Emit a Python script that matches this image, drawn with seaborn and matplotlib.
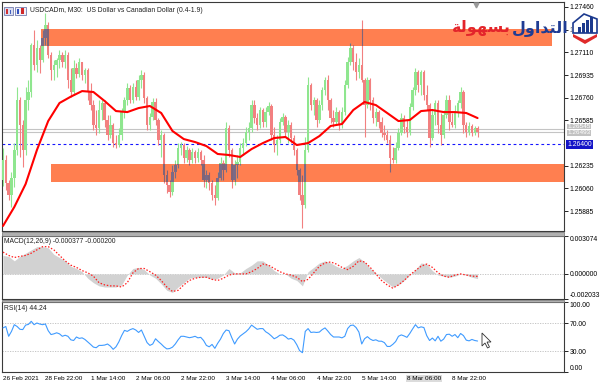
import numpy as np
import matplotlib
matplotlib.use("Agg")
import matplotlib.pyplot as plt
import matplotlib.patches as mpatches
import matplotlib.transforms as mtransforms
import seaborn as sns

sns.set_style("white")
plt.rcParams['font.family'] = ['Liberation Sans', 'DejaVu Sans']

# ---------------- data (hourly candles, USDCAD) ----------------
first_open = 1.26125
closes = [1.26279, 1.26102, 1.26010, 1.26141, 1.26356, 1.26742, 1.26549, 1.26356, 1.26742, 1.26804,
          1.27166, 1.27012, 1.27143, 1.27050, 1.27220, 1.27320, 1.27089, 1.26973, 1.27012, 1.27050,
          1.27089, 1.27035, 1.27089, 1.26896, 1.26804, 1.26989, 1.26942, 1.27035, 1.26935, 1.26973,
          1.26804, 1.26703, 1.26549, 1.26526, 1.26665, 1.26719, 1.26588, 1.26472, 1.26549, 1.26410,
          1.26395, 1.26472, 1.26649, 1.26742, 1.26835, 1.26742, 1.26842, 1.26765, 1.26896, 1.26935,
          1.26757, 1.26549, 1.26611, 1.26727, 1.26588, 1.26434, 1.26472, 1.26164, 1.26087, 1.26033,
          1.26187, 1.26241, 1.26372, 1.26395, 1.26295, 1.26356, 1.26279, 1.26341, 1.26295, 1.26341,
          1.26279, 1.26125, 1.26164, 1.26102, 1.26010, 1.25986, 1.26141, 1.26256, 1.26202, 1.26526,
          1.26356, 1.26125, 1.26241, 1.26264, 1.26372, 1.26410, 1.26495, 1.26526, 1.26703, 1.26603,
          1.26549, 1.26665, 1.26572, 1.26649, 1.26696, 1.26472, 1.26395, 1.26434, 1.26572, 1.26611,
          1.26495, 1.26549, 1.26449, 1.26356, 1.26202, 1.26010, 1.25932, 1.26356, 1.26858, 1.26703,
          1.26742, 1.26588, 1.26703, 1.26819, 1.26896, 1.26742, 1.26603, 1.26572, 1.26649, 1.26549,
          1.26649, 1.26858, 1.27035, 1.27143, 1.27035, 1.26958, 1.27012, 1.26896, 1.26703, 1.26896,
          1.26742, 1.26603, 1.26649, 1.26572, 1.26488, 1.26472, 1.26434, 1.26295, 1.26279, 1.26372,
          1.26488, 1.26603, 1.26534, 1.26495, 1.26688, 1.26819, 1.26958, 1.26858, 1.26958, 1.26781,
          1.26703, 1.26449, 1.26626, 1.26719, 1.26549, 1.26472, 1.26626, 1.26742, 1.26572, 1.26549,
          1.26649, 1.26719, 1.26804, 1.26549, 1.26495, 1.26542, 1.26488, 1.26526, 1.26493]
highs = [1.26372, 1.26318, 1.26125, 1.26187, 1.26410, 1.26842, 1.26765, 1.26588, 1.26842, 1.26896,
         1.27181, 1.27282, 1.27205, 1.27166, 1.27282, 1.27413, 1.27343, 1.27112, 1.27050, 1.27066,
         1.27127, 1.27112, 1.27127, 1.27112, 1.26989, 1.27050, 1.27027, 1.27066, 1.27035, 1.26989,
         1.26989, 1.26873, 1.26742, 1.26665, 1.26742, 1.26742, 1.26742, 1.26626, 1.26626, 1.26565,
         1.26472, 1.26526, 1.26680, 1.26765, 1.26873, 1.26858, 1.26873, 1.26896, 1.26935, 1.26973,
         1.26958, 1.26773, 1.26642, 1.26757, 1.26757, 1.26603, 1.26511, 1.26488, 1.26202, 1.26125,
         1.26241, 1.26279, 1.26410, 1.26418, 1.26410, 1.26387, 1.26372, 1.26372, 1.26356, 1.26372,
         1.26356, 1.26318, 1.26202, 1.26187, 1.26125, 1.26087, 1.26187, 1.26303, 1.26279, 1.26572,
         1.26549, 1.26372, 1.26279, 1.26318, 1.26410, 1.26449, 1.26534, 1.26572, 1.26742, 1.26742,
         1.26642, 1.26688, 1.26680, 1.26688, 1.26727, 1.26711, 1.26534, 1.26472, 1.26603, 1.26642,
         1.26626, 1.26588, 1.26572, 1.26472, 1.26372, 1.26218, 1.26164, 1.26457, 1.26919, 1.26873,
         1.26765, 1.26757, 1.26742, 1.26842, 1.26919, 1.26935, 1.26757, 1.26665, 1.26688, 1.26665,
         1.26688, 1.26896, 1.27074, 1.27181, 1.27166, 1.27104, 1.27066, 1.27359, 1.26912, 1.26919,
         1.26912, 1.26765, 1.26680, 1.26665, 1.26611, 1.26549, 1.26511, 1.26472, 1.26380, 1.26418,
         1.26526, 1.26642, 1.26626, 1.26588, 1.26719, 1.26842, 1.26989, 1.26973, 1.26973, 1.26973,
         1.26858, 1.26719, 1.26665, 1.26742, 1.26742, 1.26642, 1.26665, 1.26781, 1.26781, 1.26642,
         1.26703, 1.26742, 1.26842, 1.26819, 1.26572, 1.26572, 1.26557, 1.26542, 1.26542]
lows = [1.26079, 1.26048, 1.25971, 1.25917, 1.26071, 1.26318, 1.26303, 1.26225, 1.26318, 1.26665,
        1.26765, 1.26973, 1.26958, 1.26950, 1.27035, 1.27166, 1.27066, 1.26896, 1.26896, 1.26919,
        1.26989, 1.26996, 1.26989, 1.26835, 1.26765, 1.26781, 1.26912, 1.26919, 1.26896, 1.26873,
        1.26742, 1.26665, 1.26511, 1.26472, 1.26488, 1.26588, 1.26534, 1.26434, 1.26449, 1.26380,
        1.26372, 1.26380, 1.26434, 1.26603, 1.26703, 1.26719, 1.26719, 1.26742, 1.26742, 1.26835,
        1.26719, 1.26511, 1.26511, 1.26588, 1.26549, 1.26395, 1.26303, 1.26102, 1.26025, 1.25994,
        1.26010, 1.26141, 1.26218, 1.26318, 1.26256, 1.26264, 1.26241, 1.26256, 1.26256, 1.26264,
        1.26241, 1.26071, 1.26064, 1.26048, 1.25971, 1.25932, 1.25971, 1.26125, 1.26125, 1.26187,
        1.26303, 1.26064, 1.26087, 1.26141, 1.26241, 1.26318, 1.26387, 1.26434, 1.26495, 1.26565,
        1.26511, 1.26526, 1.26534, 1.26534, 1.26626, 1.26434, 1.26341, 1.26318, 1.26410, 1.26549,
        1.26457, 1.26410, 1.26410, 1.26318, 1.26164, 1.25971, 1.25755, 1.25909, 1.26341, 1.26665,
        1.26626, 1.26534, 1.26565, 1.26665, 1.26781, 1.26665, 1.26565, 1.26534, 1.26549, 1.26511,
        1.26526, 1.26626, 1.26835, 1.27012, 1.26973, 1.26896, 1.26912, 1.26881, 1.26457, 1.26680,
        1.26665, 1.26565, 1.26542, 1.26526, 1.26457, 1.26434, 1.26410, 1.26187, 1.26256, 1.26256,
        1.26356, 1.26472, 1.26488, 1.26457, 1.26472, 1.26665, 1.26781, 1.26804, 1.26781, 1.26742,
        1.26665, 1.26380, 1.26434, 1.26549, 1.26488, 1.26395, 1.26449, 1.26603, 1.26511, 1.26534,
        1.26526, 1.26611, 1.26680, 1.26488, 1.26457, 1.26472, 1.26464, 1.26472, 1.26457]

# moving average, one value every 4 candles
ma_step = 4
ma_values = [1.25771, 1.25917, 1.26094, 1.26356, 1.26580, 1.26719, 1.26768, 1.26811, 1.26804, 1.26734,
             1.26657, 1.26649, 1.26680, 1.26696, 1.26642, 1.26503, 1.26441, 1.26418, 1.26387, 1.26326,
             1.26318, 1.26303, 1.26364, 1.26410, 1.26449, 1.26457, 1.26395, 1.26410, 1.26464, 1.26542,
             1.26557, 1.26665, 1.26727, 1.26703, 1.26642, 1.26580, 1.26588, 1.26657, 1.26665, 1.26649,
             1.26649, 1.26642, 1.26603]

# MACD (values in units of 1e-4), one value every 2 candles
macd_step = 2
macd_main_e4 = [15.0, 14.2, 10.6, 14.2, 16.8, 19.5, 22.1, 22.1, 21.2, 15.9,
                13.3, 10.6, 6.2, 4.4, 1.8, -3.5, -7.1, -9.7, -10.6, -10.6,
                -10.6, -8.9, -0.9, 4.4, 5.3, 3.5, -0.9, -3.5, -8.0, -13.3,
                -15.0, -10.6, -7.1, -3.5, -2.7, -2.7, -2.7, -4.4, -3.5, -0.9,
                4.4, 0.9, 0.9, 4.4, 7.1, 10.6, 10.6, 7.1, 2.7, 0.0,
                0.0, -3.5, -5.3, -9.7, 1.8, 5.3, 8.9, 10.6, 8.9, 6.2,
                4.4, 7.1, 10.6, 13.3, 9.7, 4.4, 0.9, -3.5, -7.1, -10.6,
                -8.9, -5.3, -0.9, 3.5, 8.9, 8.0, 2.7, -0.9, -1.8, -2.7,
                -1.8, 0.0, -0.9, -2.7, -3.77]
macd_signal_e4 = [17.7, 15.0, 13.3, 14.2, 15.0, 16.8, 19.5, 22.1, 22.1, 19.5,
                  15.0, 10.6, 7.1, 5.3, 2.7, 0.9, -1.8, -7.1, -8.9, -9.7,
                  -9.7, -10.6, -7.1, 0.9, 4.4, 4.4, 1.8, -0.9, -5.3, -10.6,
                  -14.2, -13.3, -8.9, -5.3, -3.5, -2.7, -2.7, -4.4, -5.3, -3.5,
                  -0.9, 0.0, 0.0, 0.0, 1.8, 4.4, 8.0, 7.1, 4.4, 1.8,
                  0.0, -0.9, -2.7, -6.2, -4.4, 0.9, 6.2, 8.9, 9.7, 8.0,
                  5.3, 3.5, 6.2, 10.6, 9.7, 5.3, 0.0, -5.3, -8.9, -11.5,
                  -8.9, -5.3, -0.9, 2.7, 6.2, 8.0, 5.3, 0.9, -1.8, -2.7,
                  -0.9, 0.0, -0.9, -1.8, -2.0]

rsi_values = [63, 65, 51, 58, 67.6, 65, 61, 60.6, 67, 68,
              72.4, 67.6, 70, 68.5, 67.6, 68.6, 59, 53.5, 54.5, 56,
              54.5, 51, 52.5, 51, 46, 45, 50, 48, 48.8, 46.5,
              43, 39.4, 35.6, 34.7, 38, 38, 38.5, 40, 37, 32.4,
              36, 43, 52, 59.5, 58, 60.5, 62, 60, 56.5, 60,
              51, 42, 38, 40, 47.5, 43.5, 40, 36, 33, 33.5,
              35.5, 40, 46, 51, 51, 50, 49, 49.8, 51, 48.8,
              49.5, 45, 38, 36, 39.4, 33.8, 41, 47, 55, 60,
              59, 49, 40, 47, 51.5, 54.5, 57.5, 61.5, 67, 64,
              61, 62, 62, 57.5, 55, 51.5, 47.5, 49.5, 52.5, 53,
              50.5, 47, 48, 45.5, 39, 30.5, 27.6, 58, 62, 56.5,
              57, 56.5, 57, 60.6, 63, 58.5, 53.5, 50, 50, 50,
              48.8, 51, 62, 66.5, 67, 63.5, 57, 40, 47.5, 50.5,
              47, 45, 46, 44, 44, 42, 36.5, 36.5, 39.5, 43.5,
              51, 53, 51.5, 49.5, 55, 61.5, 67.6, 63, 64.5, 63.5,
              52, 45, 48.5, 44.5, 51, 44, 47, 53.5, 54, 51,
              53.5, 49, 55, 52, 45.5, 44.5, 46.5, 45, 44.24]

# chart objects (time in candle index, price)
zone_start = [13.5, 17.0]
zone_end = [194.3, 198.6]
zone_low = [1.27161, 1.26112]
zone_high = [1.27290, 1.26249]
hline_level = 1.26400
price_lines = [1.26516, 1.26493]
price_labels = ["1.26545", "1.26493"]

price_ticks = [1.27460, 1.27285, 1.27110, 1.26935, 1.26760, 1.26585, 1.26235, 1.26060, 1.25885]
macd_ticks = [0.003074, 0.0, -0.002033]
rsi_ticks = [100, 70, 30, 0]
time_tick_idx = [0, 15, 31, 47, 63, 79, 95, 111, 127, 143, 159]
time_tick_labels = ["26 Feb 2021", "28 Feb 22:00", "1 Mar 14:00", "2 Mar 06:00", "2 Mar 22:00",
                    "3 Mar 14:00", "4 Mar 06:00", "4 Mar 22:00", "5 Mar 14:00", "8 Mar 06:00",
                    "8 Mar 22:00"]

# ---------------- figure ----------------
W, H = 600, 383
fig = plt.figure(figsize=(W / 100, H / 100), dpi=100)
fig.patch.set_facecolor("white")


def rect(x0, y0, x1, y1):
    return [x0 / W, 1 - y1 / H, (x1 - x0) / W, (y1 - y0) / H]


ax = fig.add_axes(rect(2, 2, 564, 231))
axm = fig.add_axes(rect(2, 236, 564, 299), sharex=ax)
axr = fig.add_axes(rect(2, 302, 564, 372), sharex=ax)

FS = 4.9
for a in (ax, axm, axr):
    a.set_facecolor("white")
    for s in a.spines.values():
        s.set_color("#3a3a3a")
        s.set_linewidth(0.8)
    a.yaxis.tick_right()
    a.tick_params(axis="y", direction="out", length=3, width=0.6, pad=1.2,
                  labelsize=FS, colors="black")
    a.grid(False)

# panel separators
for y0, y1 in [(231.5, 235.5), (299.5, 301.8)]:
    fig.patches.append(mpatches.Rectangle((2 / W, 1 - y1 / H), 562 / W, (y1 - y0) / H,
                                          transform=fig.transFigure, facecolor="#b0b0b0",
                                          edgecolor="#707070", linewidth=0.5, zorder=0))

idx = np.arange(len(closes))
closes_a = np.array(closes)
opens_a = np.concatenate([[first_open], closes_a[:-1]])
highs_a = np.array(highs)
lows_a = np.array(lows)
up = closes_a >= opens_a
body_bottom = np.minimum(opens_a, closes_a)
body_h = np.maximum(np.abs(closes_a - opens_a), 0.00003)

# zones
zone_patches = []
for s, e, lo, hi in zip(zone_start, zone_end, zone_low, zone_high):
    ax.add_patch(mpatches.Rectangle((s, lo), e - s, hi - lo, facecolor="#ff7f50",
                                    edgecolor="none", zorder=1))
    zone_patches.append(mpatches.Rectangle((s, lo), e - s, hi - lo, transform=ax.transData))

# price lines
ax.axhline(hline_level, color="#1515ff", lw=0.8, ls=(0, (2.5, 2.5)), zorder=1.5)
for v in price_lines:
    ax.axhline(v, color="#c4c4c4", lw=0.8, zorder=1.4)


def draw_candles(a, col_up, col_dn, z, clip=None):
    cols = np.where(up, col_up, col_dn)
    lc = a.vlines(idx, lows_a, highs_a, colors=cols, linewidth=0.8, zorder=z)
    bars = a.bar(idx, body_h, bottom=body_bottom, width=0.86, color=cols,
                 linewidth=0, zorder=z)
    if clip is not None:
        lc.set_clip_path(clip)
        for b in bars:
            b.set_clip_path(clip)


draw_candles(ax, "#8fe68f", "#f28080", 3)
for zp in zone_patches:
    draw_candles(ax, "#7a6a86", "#806478", 3.5, clip=zp)

# moving average
ma_idx = np.arange(len(ma_values)) * ma_step
sns.lineplot(x=ma_idx, y=ma_values, ax=ax, color="#ff0000", linewidth=1.5, zorder=5)

ax.set_xlim(-0.354, 198.6)
ax.set_ylim(1.25732, 1.27498)
ax.set_yticks(price_ticks)
ax.set_yticklabels([f"{v:.5f}" for v in price_ticks])
ax.tick_params(axis="x", bottom=False, labelbottom=False)
ax.set_xlabel("")
ax.set_ylabel("")

blend = mtransforms.blended_transform_factory(ax.transAxes, ax.transData)
ax.text(1.006, hline_level, "1.26400", transform=blend, ha="left", va="center", fontsize=FS,
        color="white", zorder=10, clip_on=False,
        bbox=dict(boxstyle="square,pad=0.18", fc="#1414c8", ec="none"))
for lvl, lab in zip([1.26536, 1.26489], price_labels):
    ax.text(1.006, lvl, lab, transform=blend, ha="left", va="center", fontsize=4.6,
            color="white", zorder=10, clip_on=False,
            bbox=dict(boxstyle="square,pad=0.04", fc="#c2c2c2", ec="none"))

# chart-shift marker
ax.plot([167.5], [0.988], marker="v", color="#9a9a9a", ms=3.5,
        transform=mtransforms.blended_transform_factory(ax.transData, ax.transAxes),
        clip_on=False, zorder=6)

# ---------------- MACD ----------------
m_idx = np.arange(len(macd_main_e4)) * macd_step
macd_main = np.array(macd_main_e4) * 1e-4
macd_signal = np.array(macd_signal_e4) * 1e-4
axm.fill_between(m_idx, 0, macd_main, color="#d2d2d2", linewidth=0, zorder=2)
axm.axhline(0, color="#bdbdbd", lw=0.6, ls=(0, (1.5, 1.5)), zorder=1)
sns.lineplot(x=m_idx, y=macd_signal, ax=axm, color="#ff2020", linewidth=0.9,
             linestyle=(0, (1.2, 1.4)), zorder=3)
axm.set_ylim(-0.002033, 0.003074)
axm.set_yticks(macd_ticks)
axm.set_yticklabels(["0.003074", "0.000000", "-0.002033"])
ml = axm.get_yticklabels()
ml[0].set_va("top")
ml[-1].set_va("bottom")
axm.tick_params(axis="x", bottom=False, labelbottom=False)
axm.set_xlabel("")
axm.set_ylabel("")
axm.text(0.003, 1 - 5.5 / 63, "MACD(12,26,9) -0.000377 -0.000200", transform=axm.transAxes,
         ha="left", va="center", fontsize=FS, color="#202020")

# ---------------- RSI ----------------
sns.lineplot(x=idx, y=rsi_values, ax=axr, color="#3f9bff", linewidth=0.8, zorder=3)
for lvl in (70, 30):
    axr.axhline(lvl, color="#bdbdbd", lw=0.6, ls=(0, (1.5, 1.5)), zorder=1)
axr.set_ylim(0, 100)
axr.set_yticks(rsi_ticks)
axr.set_yticklabels(["100.00", "70.00", "30.00", "0.00"])
rl = axr.get_yticklabels()
rl[0].set_va("top")
rl[-1].set_va("bottom")
axr.set_xlabel("")
axr.set_ylabel("")
axr.text(0.003, 1 - 6 / 70, "RSI(14) 44.24", transform=axr.transAxes,
         ha="left", va="center", fontsize=FS, color="#202020")
axr.set_xticks(time_tick_idx)
axr.set_xticklabels(time_tick_labels)
axr.tick_params(axis="x", direction="out", length=2.5, width=0.6, pad=0.3, labelsize=4.6,
                colors="black")
for lbl in axr.get_xticklabels():
    lbl.set_ha("left")
axr.get_xticklabels()[9].set_bbox(dict(boxstyle="square,pad=0.15", fc="#dcdcdc", ec="none"))
ax.set_xlim(-0.354, 198.6)

# ---------------- title, icons, logo, cursor ----------------
fig.text(30 / W, 1 - 10.5 / H, "USDCADm, M30:  US Dollar vs Canadian Dollar (0.4-1.9)",
         fontsize=FS, ha="left", va="center", color="#202020")


def fig_poly(pts, **kw):
    p = mpatches.Polygon([(x / W, 1 - y / H) for x, y in pts], closed=True,
                         transform=fig.transFigure, **kw)
    fig.patches.append(p)


# tiny window icons
fig_poly([(4, 7), (13, 7), (13, 15), (4, 15)], fc="#d8dcf0", ec="#5a64a0", lw=0.5, zorder=8)
fig_poly([(6, 9), (7.5, 9), (7.5, 14), (6, 14)], fc="#d03030", ec="none", zorder=9)
fig_poly([(9.5, 10), (11, 10), (11, 14), (9.5, 14)], fc="#4060c0", ec="none", zorder=9)
fig_poly([(15, 7), (26, 7), (26, 15), (15, 15)], fc="#f0f0f8", ec="#5a64a0", lw=0.5, zorder=8)
fig_poly([(17, 9), (19, 9), (19, 14), (17, 14)], fc="#3050c0", ec="none", zorder=9)
fig_poly([(21, 8), (24, 8), (24, 14), (21, 14)], fc="#d02828", ec="none", zorder=9)

# logo icon
fig_poly([(572, 22), (584, 12), (598, 18), (598, 36), (585, 44), (572, 36)],
         fc="white", ec="white", lw=0.5, zorder=8)
fig_poly([(573, 23), (584, 14), (597, 19), (597, 33), (573, 33)],
         fc="white", ec="#1c3a8e", lw=1.2, zorder=9)
for bx, by in [(578, 27), (582, 23), (586, 20), (590, 17)]:
    fig_poly([(bx, by), (bx + 2.6, by), (bx + 2.6, 33), (bx, 33)], fc="#1c3a8e", ec="none", zorder=10)
fig_poly([(573, 34), (585, 40), (597, 34), (597, 37), (585, 44), (573, 37)],
         fc="#e02a2a", ec="none", zorder=10)

# Arabic logo text (pre-shaped presentation forms, visual order)
fig.text(540 / W, 1 - 28 / H, "\uFEDD\uFEED\uFE8D\uFEAA\uFE98\uFEDF\uFE8D",
         family=["DejaVu Sans"], fontweight="bold", fontsize=11.5, color="#1f3c94",
         ha="center", va="center", zorder=11)
fig.text(481 / W, 1 - 28 / H, "\uFE94\uFEDF\uFEEE\uFEEC\uFEB4\uFE91",
         family=["DejaVu Sans"], fontweight="bold", fontsize=11.5, color="#e3242b",
         ha="center", va="center", zorder=11)

# mouse cursor
fig_poly([(482, 333), (482, 346), (485, 343), (487.5, 348), (489.5, 347), (487, 342), (491, 342)],
         fc="white", ec="#303030", lw=0.6, zorder=12)

fig.savefig("out.png", dpi=100, facecolor="white")
